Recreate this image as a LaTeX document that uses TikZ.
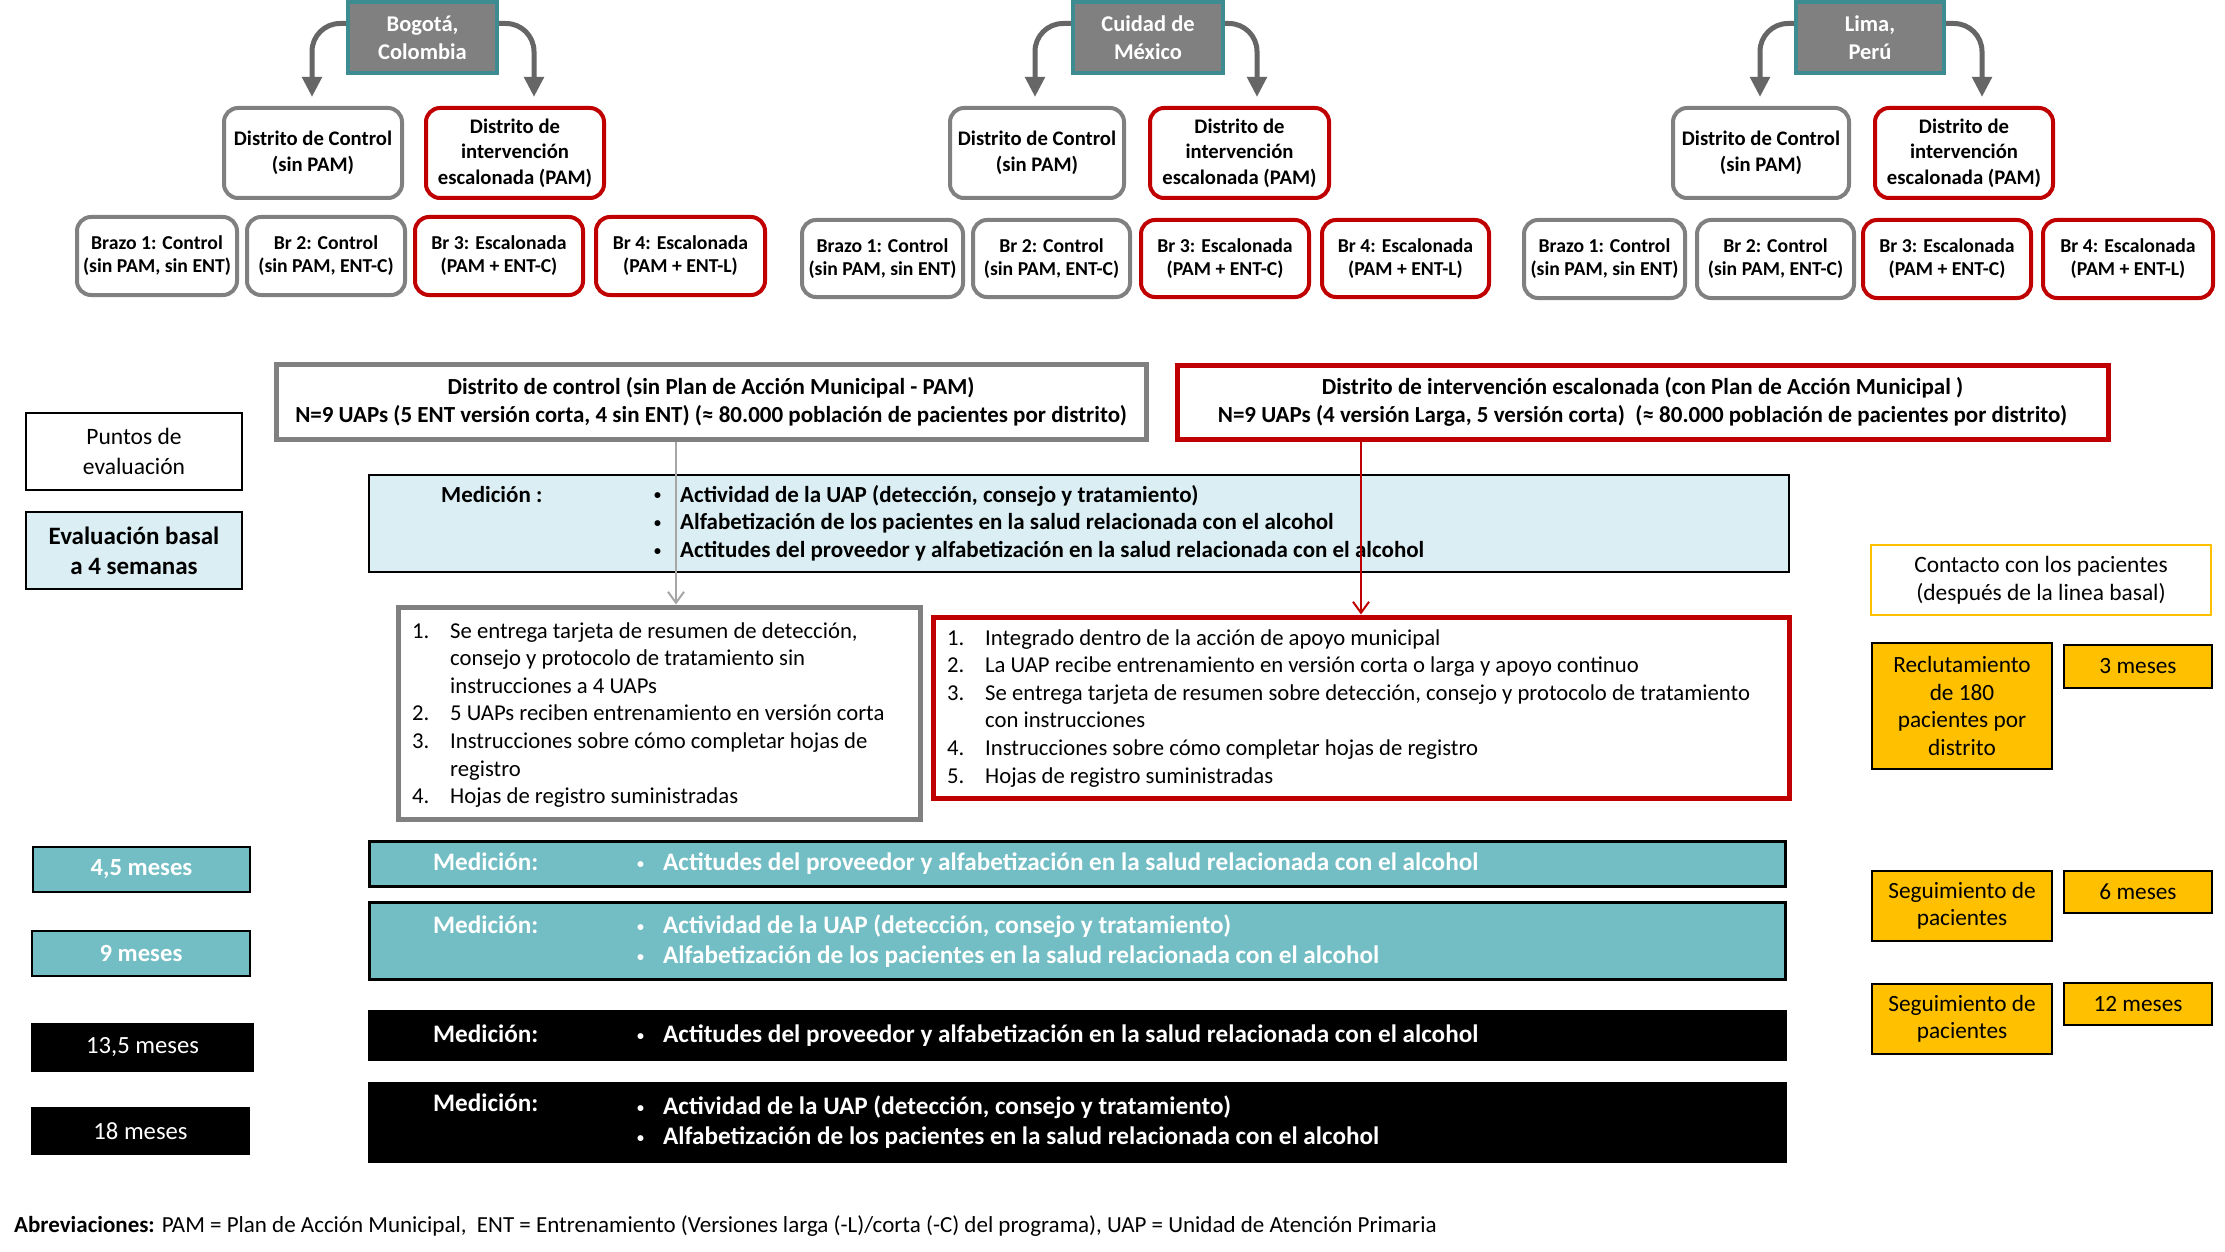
\documentclass[tikz,border=0pt]{standalone}
\usepackage{fontspec}
\setmainfont{Carlito}
\usetikzlibrary{arrows.meta}
\definecolor{citygray}{RGB}{128,128,128}
\definecolor{cityteal}{RGB}{60,140,145}
\definecolor{bordergray}{RGB}{128,128,128}
\definecolor{boxred}{RGB}{192,0,0}
\definecolor{arrowgray}{RGB}{102,102,102}
\definecolor{linegray}{RGB}{166,166,166}
\definecolor{lightblue}{RGB}{218,238,243}
\definecolor{tealfill}{RGB}{114,190,196}
\definecolor{gold}{RGB}{255,192,0}
\newcommand\fs[2]{\fontsize{#1}{#2}\selectfont}
\newcommand\sbul{\raisebox{2.2pt}{\fontsize{14}{14}\selectfont •}}
\newcommand\boxnode[6]{%
  \pgfmathsetmacro\bxW{#5-#3}\pgfmathsetmacro\bxH{#6-#4}%
  \pgfmathsetmacro\bxX{(#3+#5)/2}\pgfmathsetmacro\bxY{(#4+#6)/2}%
  \node[#1, minimum width=\bxW pt, minimum height=\bxH pt] (#2) at (\bxX,\bxY)}
\begin{document}
\begin{tikzpicture}[x=1pt,y=-1pt,
  city/.style={draw=cityteal, fill=citygray, line width=4pt, text=white, font=\fs{22.5}{28}\bfseries, align=center, inner sep=0pt},
  rb/.style={rounded corners=14pt, line width=4pt, fill=white, align=center, inner sep=0pt},
  gb/.style={rb, draw=bordergray},
  rdb/.style={rb, draw=boxred},
  dist/.style={font=\fs{20.7}{25.5}\bfseries},
  arm/.style={font=\fs{19.7}{23}\bfseries},
  tarrow/.style={draw=arrowgray, line width=5pt, rounded corners=28pt, -{Triangle[length=20pt,width=19pt]}},
  hdr/.style={line width=5pt, fill=white, align=center, inner sep=0pt, font=\fs{23}{28}\bfseries},
  lst/.style={line width=5pt, fill=white, inner sep=0pt},
  plainbox/.style={draw=black, line width=1.5pt, align=center, inner sep=0pt},
  txt/.style={inner sep=0pt, anchor=base west},
  yb/.style={draw=black, fill=gold, line width=2pt, align=center, inner sep=0pt, font=\fs{23.3}{27.5}},
  tbox/.style={draw=black, line width=2.5pt, align=center, inner sep=0pt, text=white, font=\fs{24.7}{29}},
  bar/.style={draw=black, line width=3pt, inner sep=0pt},
  bartxt/.style={txt, text=white, font=\fs{25.2}{30}\bfseries},
  mtxt/.style={txt, font=\fs{23}{27.6}\bfseries},
  ltxt/.style={txt, font=\fs{22.7}{27.6}},
  conn/.style={line width=2pt, -{Straight Barb[length=11pt,width=16pt]}}
]
\fill[white] (0,0) rectangle (2225,1252);
\useasboundingbox (0,0) rectangle (2225,1252);

% ---------- Bogota ----------
\boxnode{city}{cB}{348}{2}{497}{73}{Bogotá,\\Colombia};
\boxnode{gb,dist}{dcB}{224}{108}{402}{198}{Distrito de Control\\(sin PAM)};
\boxnode{rdb,dist}{inB}{426}{108}{604}{198}{Distrito de\\intervención\\escalonada (PAM)};
\boxnode{gb,arm}{b1B}{77}{217}{237}{295}{Brazo 1: Control\\(sin PAM, sin ENT)};
\boxnode{gb,arm}{b2B}{247}{217}{405}{295}{Br 2: Control\\(sin PAM, ENT-C)};
\boxnode{rdb,arm}{b3B}{415}{217}{583}{295}{Br 3: Escalonada\\(PAM + ENT-C)};
\boxnode{rdb,arm}{b4B}{596}{217}{765}{295}{Br 4: Escalonada\\(PAM + ENT-L)};
\coordinate (tlB) at (312,97); \coordinate (trB) at (534,97);
\draw[tarrow] ([yshift=14pt]cB.west) -| (tlB);
\draw[tarrow] ([yshift=14pt]cB.east) -| (trB);

% ---------- Mexico ----------
\boxnode{city}{cM}{1073}{2}{1223}{73}{Cuidad de\\México};
\boxnode{gb,dist}{dcM}{950}{108}{1124}{198}{Distrito de Control\\(sin PAM)};
\boxnode{rdb,dist}{inM}{1150}{108}{1329}{198}{Distrito de\\intervención\\escalonada (PAM)};
\boxnode{gb,arm}{b1M}{802}{220}{963}{297}{Brazo 1: Control\\(sin PAM, sin ENT)};
\boxnode{gb,arm}{b2M}{973}{220}{1130}{297}{Br 2: Control\\(sin PAM, ENT-C)};
\boxnode{rdb,arm}{b3M}{1141}{220}{1309}{297}{Br 3: Escalonada\\(PAM + ENT-C)};
\boxnode{rdb,arm}{b4M}{1322}{220}{1489}{297}{Br 4: Escalonada\\(PAM + ENT-L)};
\coordinate (tlM) at (1035,97); \coordinate (trM) at (1257,97);
\draw[tarrow] ([yshift=14pt]cM.west) -| (tlM);
\draw[tarrow] ([yshift=14pt]cM.east) -| (trM);

% ---------- Lima ----------
\boxnode{city}{cL}{1796}{2}{1944}{73}{Lima,\\Perú};
\boxnode{gb,dist}{dcL}{1673}{108}{1849}{198}{Distrito de Control\\(sin PAM)};
\boxnode{rdb,dist}{inL}{1875}{108}{2053}{198}{Distrito de\\intervención\\escalonada (PAM)};
\boxnode{gb,arm}{b1L}{1524}{220}{1685}{298}{Brazo 1: Control\\(sin PAM, sin ENT)};
\boxnode{gb,arm}{b2L}{1697}{220}{1854}{298}{Br 2: Control\\(sin PAM, ENT-C)};
\boxnode{rdb,arm}{b3L}{1863}{220}{2031}{298}{Br 3: Escalonada\\(PAM + ENT-C)};
\boxnode{rdb,arm}{b4L}{2043}{220}{2213}{298}{Br 4: Escalonada\\(PAM + ENT-L)};
\coordinate (tlL) at (1760,97); \coordinate (trL) at (1982,97);
\draw[tarrow] ([yshift=14pt]cL.west) -| (tlL);
\draw[tarrow] ([yshift=14pt]cL.east) -| (trL);

% ---------- headers ----------
\boxnode{hdr,draw=bordergray}{hc}{276}{364}{1146}{439}{Distrito de control (sin Plan de Acción Municipal - PAM)\\N=9 UAPs (5 ENT versión corta, 4 sin ENT) (≈ 80.000 población de pacientes por distrito)};
\boxnode{hdr,draw=boxred}{hr}{1177}{365}{2108}{439}{Distrito de intervención escalonada (con Plan de Acción Municipal )\\N=9 UAPs (4 versión Larga, 5 versión corta)\ \ (≈ 80.000 población de pacientes por distrito)};

% ---------- left labels ----------
\boxnode{plainbox,fill=white,font=\fs{23.5}{30}}{pe}{26}{413}{242}{490}{Puntos de\\evaluación};
\boxnode{plainbox,fill=lightblue,font=\fs{25}{30}\bfseries}{eb}{26}{512}{242}{589}{Evaluación basal\\a 4 semanas};

% ---------- baseline measurement ----------
\boxnode{draw=black,line width=2pt,fill=lightblue,inner sep=0pt}{mb}{369}{475}{1789}{572}{};
\node[mtxt] (mbl) at (441,502) {Medición :};
\node[mtxt] (mbt) at (654,502) {\begin{tabular}[t]{@{}p{26pt}@{}l@{}}
\sbul&Actividad de la UAP (detección, consejo y tratamiento)\\
\sbul&Alfabetización de los pacientes en la salud relacionada con el alcohol\\
\sbul&Actitudes del proveedor y alfabetización en la salud relacionada con el alcohol
\end{tabular}};

% ---------- lists ----------
\boxnode{lst,draw=bordergray}{gl}{398}{607}{920}{819}{};
\node[ltxt] (glt) at (412,638) {\begin{tabular}[t]{@{}p{38pt}@{}l@{}}
1.&Se entrega tarjeta de resumen de detección,\\
&consejo y protocolo de tratamiento sin\\
&instrucciones a 4 UAPs\\
2.&5 UAPs reciben entrenamiento en versión corta\\
3.&Instrucciones sobre cómo completar hojas de\\
&registro\\
4.&Hojas de registro suministradas
\end{tabular}};
\boxnode{lst,draw=boxred}{rl}{933}{617}{1789}{798}{};
\node[ltxt] (rlt) at (947,645) {\begin{tabular}[t]{@{}p{38pt}@{}l@{}}
1.&Integrado dentro de la acción de apoyo municipal\\
2.&La UAP recibe entrenamiento en versión corta o larga y apoyo continuo\\
3.&Se entrega tarjeta de resumen sobre detección, consejo y protocolo de tratamiento\\
&con instrucciones\\
4.&Instrucciones sobre cómo completar hojas de registro\\
5.&Hojas de registro suministradas
\end{tabular}};

% ---------- connectors ----------
\coordinate (gx) at (676,0);
\draw[conn, draw=linegray] (hc.south -| gx) -- (gl.north -| gx);
\draw[conn, draw=boxred] (hr.south -| rl.north) -- (rl.north);

% ---------- right column ----------
\boxnode{draw=gold,line width=2.5pt,fill=white,align=center,inner sep=0pt,font=\fs{23.4}{28}}{ct}{1871}{545}{2211}{615}{Contacto con los pacientes\\(después de la linea basal)};
\boxnode{yb}{rec}{1872}{643}{2052}{769}{Reclutamiento\\de 180\\pacientes por\\distrito};
\boxnode{yb}{m3}{2064}{645}{2212}{688}{3 meses};
\boxnode{yb}{sg1}{1872}{871}{2052}{941}{Seguimiento de\\pacientes};
\boxnode{yb}{m6}{2064}{871}{2212}{913}{6 meses};
\boxnode{yb}{sg2}{1872}{984}{2052}{1054}{Seguimiento de\\pacientes};
\boxnode{yb}{m12}{2064}{983}{2212}{1025}{12 meses};

% ---------- time points ----------
\boxnode{tbox,fill=tealfill,font=\fs{24.7}{29}\bfseries}{t45}{33}{847}{250}{892}{4,5 meses};
\boxnode{tbox,fill=tealfill,font=\fs{24.7}{29}\bfseries}{t9}{32}{931}{250}{976}{9 meses};
\boxnode{tbox,fill=black}{t135}{32}{1024}{253}{1071}{13,5 meses};
\boxnode{tbox,fill=black}{t18}{32}{1108}{249}{1154}{18 meses};

% ---------- measurement bars ----------
\boxnode{bar,fill=tealfill}{br1}{369}{841}{1785}{886}{};
\node[bartxt] (br1l) at (433,870.5) {Medición:};
\node[bartxt] (br1t) at (637,870.5) {\begin{tabular}[t]{@{}p{26pt}@{}l@{}}
\sbul&Actitudes del proveedor y alfabetización en la salud relacionada con el alcohol
\end{tabular}};
\boxnode{bar,fill=tealfill}{br2}{369}{902}{1785}{979}{};
\node[bartxt] (br2l) at (433,933.5) {Medición:};
\node[bartxt] (br2t) at (637,933.5) {\begin{tabular}[t]{@{}p{26pt}@{}l@{}}
\sbul&Actividad de la UAP (detección, consejo y tratamiento)\\
\sbul&Alfabetización de los pacientes en la salud relacionada con el alcohol
\end{tabular}};
\boxnode{bar,fill=black}{br3}{369}{1011}{1785}{1059}{};
\node[bartxt] (br3l) at (433,1042.5) {Medición:};
\node[bartxt] (br3t) at (637,1042.5) {\begin{tabular}[t]{@{}p{26pt}@{}l@{}}
\sbul&Actitudes del proveedor y alfabetización en la salud relacionada con el alcohol
\end{tabular}};
\boxnode{bar,fill=black}{br4}{369}{1083}{1785}{1161}{};
\node[bartxt] (br4l) at (433,1111.5) {Medición:};
\node[bartxt] (br4t) at (637,1114.5) {\begin{tabular}[t]{@{}p{26pt}@{}l@{}}
\sbul&Actividad de la UAP (detección, consejo y tratamiento)\\
\sbul&Alfabetización de los pacientes en la salud relacionada con el alcohol
\end{tabular}};

% ---------- abbreviations ----------
\node[txt, font=\fs{23}{27}] (abbr) at (14,1232) {\textbf{Abreviaciones:} PAM = Plan de Acción Municipal,\ \ ENT = Entrenamiento (Versiones larga (-L)/corta (-C) del programa), UAP = Unidad de Atención Primaria};
\end{tikzpicture}
\end{document}
